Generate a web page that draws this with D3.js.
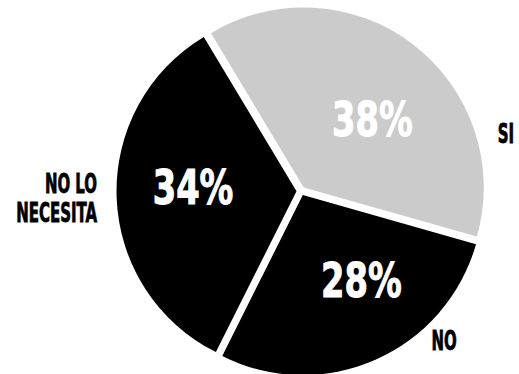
<!DOCTYPE html>
<html>
<head>
<meta charset="utf-8">
<script src="https://cdn.jsdelivr.net/npm/d3@7"></script>
<style>
  html, body { margin: 0; padding: 0; background: #ffffff; }
  svg { display: block; }
  text { font-family: "DejaVu Sans Condensed", "DejaVu Sans", sans-serif; font-weight: bold; }
</style>
</head>
<body>
<svg id="chart" width="519" height="374"></svg>
<script>
// Survey answers and their shares (percent)
const categories = ["SI", "NO", "NO LO NECESITA"];
const shares = [38, 28, 34];
const sliceColors = ["#cbcbcb", "#000000", "#000000"];
const valueLabelColors = ["#ffffff", "#ffffff", "#ffffff"];

// Layout
const width = 519, height = 374;
const cx = 301, cy = 191, radius = 180;
const explode = 4.5;
const startDeg = -31;

const svg = d3.select("#chart");
const g = svg.append("g").attr("transform", `translate(${cx},${cy})`);

const pie = d3.pie()
  .sort(null)
  .value(d => d.value)
  .startAngle(startDeg * Math.PI / 180)
  .endAngle((startDeg + 360) * Math.PI / 180);

const data = categories.map((c, i) => ({ name: c, value: shares[i], color: sliceColors[i], textColor: valueLabelColors[i] }));
const arcs = pie(data);

const arc = d3.arc().innerRadius(0).outerRadius(radius);

// Slices, each pushed a little outward along its bisector
g.selectAll("path.slice")
  .data(arcs)
  .join("path")
  .attr("class", "slice")
  .attr("fill", d => d.data.color)
  .attr("transform", d => {
    const a = (d.startAngle + d.endAngle) / 2;
    return `translate(${Math.sin(a) * explode},${-Math.cos(a) * explode})`;
  })
  .attr("d", arc);

// Percentage labels inside the slices (angle in degrees, distance from centre)
const valueLabelPos = [
  { angle: 45, dist: 101, baseline: 16 },
  { angle: 146, dist: 108, baseline: 16 },
  { angle: -88.4, dist: 108, baseline: 16 }
];
g.selectAll("g.value")
  .data(arcs)
  .join("g")
  .attr("class", "value")
  .attr("transform", (d, i) => {
    const p = valueLabelPos[i], a = p.angle * Math.PI / 180;
    return `translate(${Math.sin(a) * p.dist},${-Math.cos(a) * p.dist + p.baseline}) scale(0.78,1)`;
  })
  .append("text")
  .attr("text-anchor", "middle")
  .attr("font-size", 48)
  .attr("fill", d => d.data.textColor)
  .attr("stroke", d => d.data.textColor)
  .attr("stroke-width", 1)
  .text(d => d.data.value + "%");

// Category names outside the pie
const nameLabelPos = [
  { x: 506, y: 143, anchor: "middle", lines: ["SI"] },
  { x: 444, y: 350, anchor: "middle", lines: ["NO"] },
  { x: 97, y: 193, anchor: "end", lines: ["NO LO", "NECESITA"], lineHeight: 29 }
];
categories.forEach((c, i) => {
  const p = nameLabelPos[i];
  const t = svg.append("g")
    .attr("transform", `translate(${p.x},${p.y}) scale(0.64,1)`)
    .append("text")
    .attr("text-anchor", p.anchor)
    .attr("font-size", 26)
    .attr("fill", "#000")
    .attr("stroke", "#000")
    .attr("stroke-width", 0.8);
  p.lines.forEach((ln, k) => {
    t.append("tspan").attr("x", 0).attr("y", k * (p.lineHeight || 0)).text(ln);
  });
});
</script>
</body>
</html>
